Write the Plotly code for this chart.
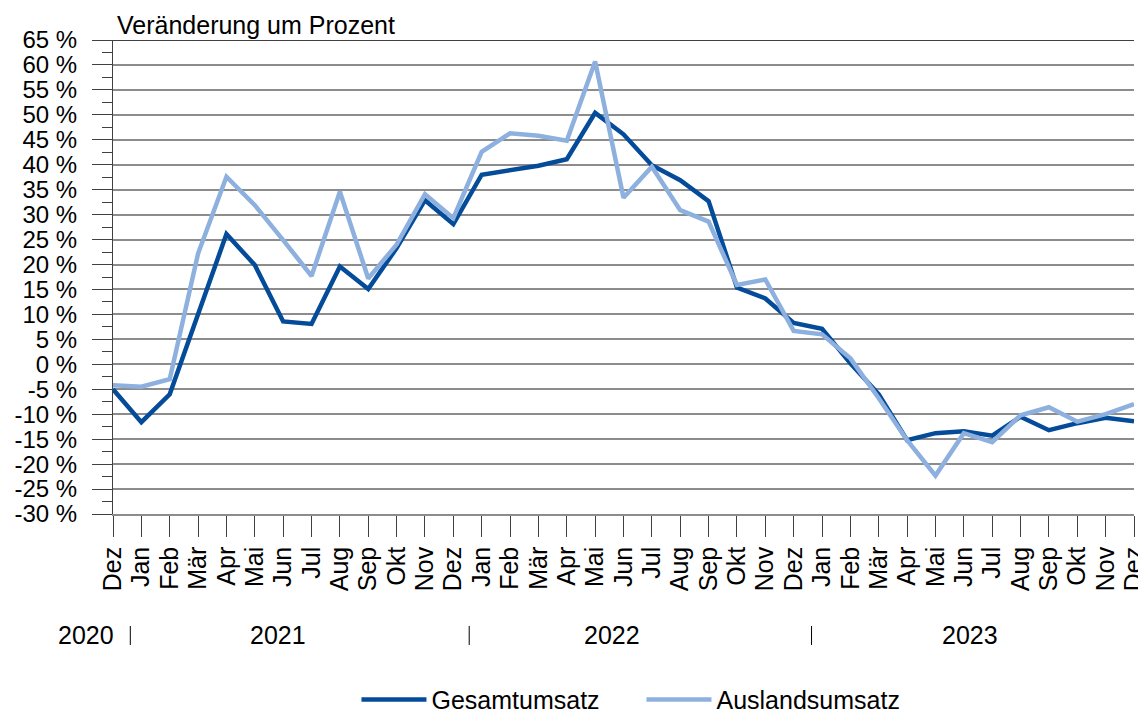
import plotly.graph_objects as go

months = ["Dez", "Jan", "Feb", "Mär", "Apr", "Mai", "Jun", "Jul", "Aug", "Sep", "Okt", "Nov",
          "Dez", "Jan", "Feb", "Mär", "Apr", "Mai", "Jun", "Jul", "Aug", "Sep", "Okt", "Nov",
          "Dez", "Jan", "Feb", "Mär", "Apr", "Mai", "Jun", "Jul", "Aug", "Sep", "Okt", "Nov", "Dez"]

gesamtumsatz = [-5.0, -11.6, -6.0, 10.3, 26.1, 19.9, 8.6, 8.1, 19.6, 15.1, 23.3, 32.9,
                28.1, 38.0, 39.0, 39.8, 41.1, 50.4, 46.1, 39.9, 36.9, 32.7, 15.4, 13.2,
                8.3, 7.1, 0.2, -6.0, -15.2, -13.8, -13.4, -14.3, -10.5, -13.2, -11.8, -10.7, -11.4]

auslandsumsatz = [-4.2, -4.5, -3.0, 22.2, 37.6, 31.9, 24.9, 17.7, 34.6, 17.2, 24.0, 34.1,
                  29.3, 42.6, 46.3, 45.8, 44.8, 60.7, 33.4, 39.6, 30.9, 28.6, 15.9, 17.0,
                  6.7, 6.0, 1.2, -6.8, -15.2, -22.3, -13.8, -15.6, -10.2, -8.6, -11.5, -10.0, -8.0]

y_ticks = list(range(-30, 70, 5))
years = ["2020", "2021", "2022", "2023"]
year_pos = [-0.95, 5.82, 17.6, 30.2]      # in month-index units
year_sep = [0.61, 12.56, 24.63]           # in month-index units

FONT = "Liberation Sans, Arial, sans-serif"
DARK = "#044B9A"
LIGHT = "#8DB0DE"

x = list(range(len(months)))
span = len(months) - 1

fig = go.Figure()
fig.add_trace(go.Scatter(x=x, y=gesamtumsatz, mode="lines", name="Gesamtumsatz",
                         line=dict(color=DARK, width=4.5)))
fig.add_trace(go.Scatter(x=x, y=auslandsumsatz, mode="lines", name="Auslandsumsatz",
                         line=dict(color=LIGHT, width=4.5)))

# page body has an 8px margin, so the figure is sized to fit the window exactly
fig.update_layout(
    width=1138, height=706,
    margin=dict(l=105, r=12, t=32, b=200, autoexpand=False),
    paper_bgcolor="white", plot_bgcolor="white",
    font=dict(family=FONT, size=24, color="black"),
    showlegend=True,
    legend=dict(orientation="h", x=0.5176, xanchor="center", y=-0.392, yanchor="middle",
                font=dict(size=25), itemwidth=65, entrywidth=205,
                bgcolor="rgba(0,0,0,0)"),
    xaxis=dict(range=[0, span], tickmode="array", tickvals=x, ticktext=months,
               tickangle=-90, ticks="outside", ticklen=21, tickcolor="#404040", tickwidth=1,
               showgrid=False, showline=True, linecolor="#8c8c8c", linewidth=1.5,
               zeroline=False, tickfont=dict(size=25), automargin=False,
               ticklabeloverflow="allow"),
    yaxis=dict(range=[-30, 65], tickmode="array", tickvals=y_ticks,
               ticktext=[f"{v} %" for v in y_ticks],
               ticks="outside", ticklen=20, tickcolor="#404040", tickwidth=1,
               showgrid=True, gridcolor="#8c8c8c", gridwidth=1.5,
               showline=True, linecolor="#404040", linewidth=1,
               zeroline=False, tickfont=dict(size=24), ticklabelstandoff=10,
               automargin=False,
               minor=dict(dtick=2.5, ticks="outside", ticklen=10, tickcolor="#404040",
                          tickwidth=1, showgrid=False)),
)

# top border line
fig.add_shape(type="line", xref="paper", yref="y", x0=0, x1=1, y0=65, y1=65,
              line=dict(color="black", width=1.5))

fig.add_annotation(text="Veränderung um Prozent", xref="paper", yref="paper",
                   x=0.002, y=1.032, xanchor="left", yanchor="middle", showarrow=False,
                   font=dict(size=25, family=FONT, color="black"))

for yr, pos in zip(years, year_pos):
    fig.add_annotation(text=yr, xref="paper", yref="paper", x=pos / span, y=-0.2563,
                       xanchor="center", yanchor="middle", showarrow=False,
                       font=dict(size=25, family=FONT, color="black"))

for s in year_sep:
    fig.add_shape(type="line", xref="paper", yref="paper", x0=s / span, x1=s / span,
                  y0=-0.2363, y1=-0.2764, line=dict(color="black", width=1))

fig.write_html("out.html")
